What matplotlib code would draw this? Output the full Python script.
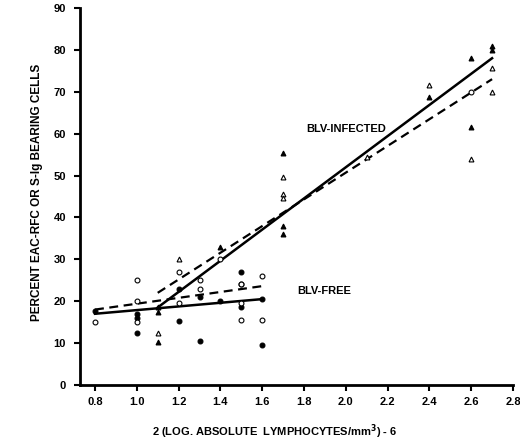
import matplotlib
matplotlib.use("Agg")
import matplotlib.pyplot as plt

plt.rcParams['font.family'] = ['Liberation Sans', 'DejaVu Sans']

# ---- data ----
filled_circle_x = [0.8, 1.0, 1.0, 1.0, 1.2, 1.2, 1.3, 1.3, 1.4, 1.5, 1.5, 1.5, 1.6, 1.6]
filled_circle_y = [17.7, 17.0, 16.0, 12.5, 23.0, 15.3, 21.0, 10.5, 20.0, 27.0, 24.0, 18.5, 20.5, 9.5]

open_circle_x = [0.8, 1.0, 1.0, 1.0, 1.2, 1.2, 1.3, 1.3, 1.5, 1.5, 1.5, 1.6, 1.6, 1.4, 2.6]
open_circle_y = [15.0, 25.0, 20.0, 15.0, 27.0, 19.5, 25.0, 23.0, 24.0, 19.5, 15.5, 26.0, 15.5, 30.0, 70.0]

filled_tri_x = [1.1, 1.1, 1.1, 1.4, 1.7, 1.7, 1.7, 2.4, 2.6, 2.6, 2.7, 2.7]
filled_tri_y = [18.7, 17.5, 10.3, 33.0, 55.3, 38.0, 36.0, 68.7, 78.0, 61.6, 81.0, 80.0]

open_tri_x = [1.1, 1.2, 1.7, 1.7, 1.7, 2.1, 2.4, 2.6, 2.7, 2.7]
open_tri_y = [12.3, 30.0, 49.7, 45.7, 44.6, 54.5, 71.6, 54.0, 75.7, 70.0]

# regression lines (end points)
free_solid_x = [0.8, 1.6]
free_solid_y = [17.0, 20.5]
free_dashed_x = [0.8, 1.6]
free_dashed_y = [18.0, 23.6]
inf_solid_x = [1.1, 2.7]
inf_solid_y = [18.5, 78.0]
inf_dashed_x = [1.1, 2.7]
inf_dashed_y = [22.0, 73.0]

x_ticks = [0.8, 1.0, 1.2, 1.4, 1.6, 1.8, 2.0, 2.2, 2.4, 2.6, 2.8]
x_tick_labels = ["0.8", "1.0", "1.2", "1.4", "1.6", "1.8", "2.0", "2.2", "2.4", "2.6", "2.8"]
y_ticks = [0, 10, 20, 30, 40, 50, 60, 70, 80, 90]

fig = plt.figure(figsize=(5.2, 4.41), dpi=100)
ax = fig.add_axes([0.1538, 0.127, 0.8327, 0.855])

ms = 3.5
ax.plot(filled_circle_x, filled_circle_y, 'o', ms=ms, mfc='black', mec='black', mew=0.8, zorder=3)
ax.plot(open_circle_x, open_circle_y, 'o', ms=ms, mfc='white', mec='black', mew=0.8, zorder=3)
ax.plot(filled_tri_x, filled_tri_y, '^', ms=ms, mfc='black', mec='black', mew=0.8, zorder=3)
ax.plot(open_tri_x, open_tri_y, '^', ms=ms, mfc='white', mec='black', mew=0.8, zorder=3)

ax.plot(free_solid_x, free_solid_y, '-', color='black', lw=1.8, zorder=2)
ax.plot(free_dashed_x, free_dashed_y, '--', color='black', lw=1.6, dashes=(4, 2.5), zorder=2)
ax.plot(inf_solid_x, inf_solid_y, '-', color='black', lw=1.8, zorder=2)
ax.plot(inf_dashed_x, inf_dashed_y, '--', color='black', lw=1.6, dashes=(4, 2.5), zorder=2)

ax.text(1.77, 22.4, "BLV-FREE", fontsize=8, fontweight='bold', ha='left', va='center')
ax.text(2.0, 61.0, "BLV-INFECTED", fontsize=8, fontweight='bold', ha='center', va='center')

ax.set_xlim(0.728, 2.8)
ax.set_ylim(0, 90)
ax.set_xticks(x_ticks)
ax.set_xticklabels(x_tick_labels)
ax.set_yticks(y_ticks)

for s in ['top', 'right']:
    ax.spines[s].set_visible(False)
for s in ['left', 'bottom']:
    ax.spines[s].set_linewidth(2.0)

ax.tick_params(axis='both', direction='out', length=4, width=1.5, labelsize=8)
ax.tick_params(axis='x', pad=5)
ax.tick_params(axis='y', pad=6)
for lab in ax.get_xticklabels() + ax.get_yticklabels():
    lab.set_fontweight('bold')

ax.set_xlabel("2 (LOG. ABSOLUTE  LYMPHOCYTES/mm$^\\mathbf{3}$) - 6", fontsize=8, fontweight='bold',
              va='center', ha='center')
ax.xaxis.set_label_coords(0.45, -0.125)
ax.set_ylabel("PERCENT EAC-RFC OR S-Ig BEARING CELLS", fontsize=8.5, fontweight='bold',
              va='center', ha='center')
ax.yaxis.set_label_coords(-0.099, 0.512)

fig.savefig("out.png", dpi=100)
